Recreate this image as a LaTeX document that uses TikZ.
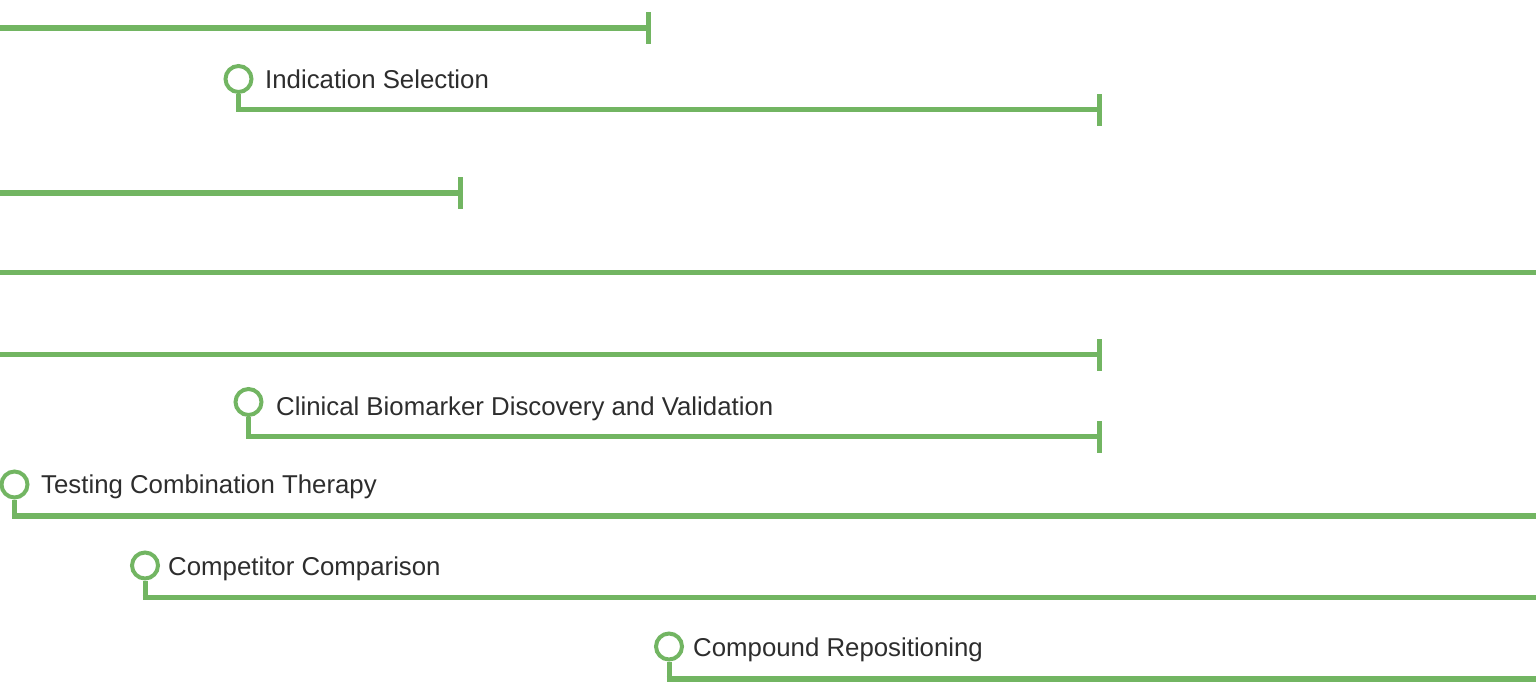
\documentclass[tikz,border=0pt]{standalone}
\usepackage{fontspec}
\setmainfont{Liberation Sans}
\definecolor{lgreen}{RGB}{114,181,98}
\definecolor{txt}{RGB}{45,45,45}
\begin{document}
\begin{tikzpicture}[x=1pt,y=-1pt,
  bar/.style={draw=lgreen,line width=5.5pt},
  capline/.style={draw=lgreen,line width=5pt},
  marker/.style={circle,draw=lgreen,line width=4pt,minimum size=26pt,inner sep=0pt},
  stem/.style={draw=lgreen,line width=5pt},
  lbl/.style={anchor=base west,inner sep=0pt,text=txt,font=\fontsize{25.8}{28}\selectfont}]
\useasboundingbox (0,0) rectangle (1536,688);
% row 1
\coordinate (a1) at (0,28); \coordinate (a2) at (648,28);
\coordinate (a2t) at (648,12); \coordinate (a2b) at (648,44);
\draw[bar] (a1) -- (a2);
\draw[capline] (a2t) -- (a2b);
% Indication Selection
\node[marker] (m1) at (238.5,79) {};
\node[lbl] (t1) at (265,88) {Indication Selection};
\coordinate (b1) at (238.5,109.5); \coordinate (b2) at (1099.5,109.5);
\coordinate (b2t) at (1099.5,94); \coordinate (b2b) at (1099.5,126);
\draw[stem] (m1.south) -- ([yshift=2.75pt]b1);
\draw[bar] ([xshift=-2.5pt]b1) -- (b2);
\draw[capline] (b2t) -- (b2b);
% row 3
\coordinate (c1) at (0,193); \coordinate (c2) at (460.5,193);
\coordinate (c2t) at (460.5,177); \coordinate (c2b) at (460.5,209);
\draw[bar] (c1) -- (c2);
\draw[capline] (c2t) -- (c2b);
% row 4
\coordinate (d1) at (0,272.5); \coordinate (d2) at (1536,272.5);
\draw[bar] (d1) -- (d2);
% row 5
\coordinate (e1) at (0,354.5); \coordinate (e2) at (1099.5,354.5);
\coordinate (e2t) at (1099.5,339); \coordinate (e2b) at (1099.5,371);
\draw[bar] (e1) -- (e2);
\draw[capline] (e2t) -- (e2b);
% Clinical Biomarker
\node[marker] (m2) at (248.5,402) {};
\node[lbl] (t2) at (276,415.5) {Clinical Biomarker Discovery and Validation};
\coordinate (f1) at (248.5,436.5); \coordinate (f2) at (1099.5,436.5);
\coordinate (f2t) at (1099.5,421); \coordinate (f2b) at (1099.5,453);
\draw[stem] (m2.south) -- ([yshift=2.75pt]f1);
\draw[bar] ([xshift=-2.5pt]f1) -- (f2);
\draw[capline] (f2t) -- (f2b);
% Testing Combination Therapy
\node[marker] (m3) at (14.5,484.5) {};
\node[lbl] (t3) at (41,493.5) {Testing Combination Therapy};
\coordinate (g1) at (14.5,516); \coordinate (g2) at (1536,516);
\draw[stem] (m3.south) -- ([yshift=2.75pt]g1);
\draw[bar] ([xshift=-2.5pt]g1) -- (g2);
% Competitor Comparison
\node[marker] (m4) at (145,565.5) {};
\node[lbl] (t4) at (168,575) {Competitor Comparison};
\coordinate (h1) at (145,597.5); \coordinate (h2) at (1536,597.5);
\draw[stem] (m4.south) -- ([yshift=2.75pt]h1);
\draw[bar] ([xshift=-2.5pt]h1) -- (h2);
% Compound Repositioning
\node[marker] (m5) at (669,646.5) {};
\node[lbl] (t5) at (693,656) {Compound Repositioning};
\coordinate (k1) at (669,679); \coordinate (k2) at (1536,679);
\draw[stem] (m5.south) -- ([yshift=2.75pt]k1);
\draw[bar] ([xshift=-2.5pt]k1) -- (k2);
\end{tikzpicture}
\end{document}
